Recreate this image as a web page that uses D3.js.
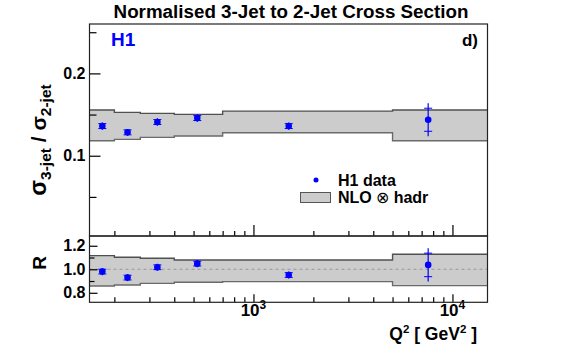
<!DOCTYPE html>
<html><head><meta charset="utf-8">
<script src="https://cdn.jsdelivr.net/npm/d3@7"></script>
<style>
body{margin:0;background:#fff;}
svg{display:block;font-family:"Liberation Sans",Arial,sans-serif;font-weight:bold;}
</style></head><body>
<svg id="c" width="567" height="364"></svg>
<script>
// ---- data ----
const binEdges = [150, 200, 270, 400, 700, 5000, 15000];
const nloUp    = [0.1555, 0.1527, 0.1515, 0.1502, 0.1542, 0.1555];
const nloDown  = [0.1182, 0.1199, 0.1223, 0.1239, 0.1279, 0.1182];
const ratioUp   = [1.116, 1.102, 1.094, 1.079, 1.079, 1.128];
const ratioDown = [0.858, 0.866, 0.880, 0.889, 0.895, 0.861];
const q2       = [174, 233, 329, 522, 1504, 7550];
const xsec     = [0.136, 0.1284, 0.1409, 0.1457, 0.136, 0.1437];
const xsecStat = [0.003, 0.003, 0.003, 0.003, 0.003, 0.014];
const xsecTot  = [0.0045, 0.004, 0.0045, 0.0045, 0.0045, 0.020];
const ratio     = [0.980, 0.929, 1.017, 1.048, 0.951, 1.037];
const ratioStat = [0.020, 0.020, 0.020, 0.020, 0.020, 0.100];
const ratioTot  = [0.030, 0.030, 0.030, 0.030, 0.030, 0.142];
const upperMajor = [0.1, 0.2];
const upperMinor = [0.05, 0.15, 0.25];
const lowerMajor = [0.8, 1.0, 1.2];
const lowerMinor = [0.9, 1.1];
const xMajor = [1000, 10000];
const xMinor = [200,300,400,500,600,700,800,900,2000,3000,4000,5000,6000,7000,8000,9000];

const svg = d3.select("#c");
const L = 89.5, R = 487.5, T1 = 24, B1 = 236, T2 = 236, B2 = 302.3;
const x = d3.scaleLog().domain([150, 15000]).range([L, R]);
const y1 = d3.scaleLinear().domain([0.0025, 0.26]).range([B1, T1]);
const y2 = d3.scaleLinear().domain([0.719, 1.283]).range([B2, T2]);
const blue = "#0000ff";

function band(g, y, up, down) {
  const pts = binEdges.map((e, i) => ({x: e, u: up[Math.min(i, up.length-1)], d: down[Math.min(i, down.length-1)]}));
  g.append("path").datum(pts)
    .attr("d", d3.area().curve(d3.curveStepAfter).x(p => x(p.x)).y0(p => y(p.d)).y1(p => y(p.u)))
    .attr("fill", "#cccccc");
  g.append("path").datum(pts)
    .attr("d", d3.line().curve(d3.curveStepAfter).x(p => x(p.x)).y(p => y(p.u)))
    .attr("fill", "none").attr("stroke", "#505050").attr("stroke-width", 1.4);
  g.append("path").datum(pts)
    .attr("d", d3.line().curve(d3.curveStepAfter).x(p => x(p.x)).y(p => y(p.d)))
    .attr("fill", "none").attr("stroke", "#6a6a6a").attr("stroke-width", 1.4);
}

function points(g, y, vals, stat, tot) {
  vals.forEach((v, i) => {
    const cx = x(q2[i]);
    g.append("line").attr("x1", cx).attr("x2", cx).attr("y1", y(v + tot[i])).attr("y2", y(v - tot[i]))
      .attr("stroke", blue).attr("stroke-width", 1.2);
    [v + stat[i], v - stat[i]].forEach(s => {
      g.append("line").attr("x1", cx - 4).attr("x2", cx + 4).attr("y1", y(s)).attr("y2", y(s))
        .attr("stroke", blue).attr("stroke-width", 1);
    });
    g.append("circle").attr("cx", cx).attr("cy", y(v)).attr("r", 3.3).attr("fill", blue);
  });
}

// upper panel
const gu = svg.append("g");
band(gu, y1, nloUp, nloDown);
points(gu, y1, xsec, xsecStat, xsecTot);
// lower panel
const gl = svg.append("g");
band(gl, y2, ratioUp, ratioDown);
gl.append("line").attr("x1", L).attr("x2", R).attr("y1", y2(1)).attr("y2", y2(1))
  .attr("stroke", "#999").attr("stroke-dasharray", "3,3").attr("stroke-width", 1);
points(gl, y2, ratio, ratioStat, ratioTot);

// axes
function styleAxis(g) {
  g.select(".domain").remove();
  g.selectAll(".tick line").attr("stroke", "#000").attr("stroke-width", 1.2);
  g.selectAll("text").attr("fill", "#000").attr("font-family", "Liberation Sans, Arial, sans-serif").attr("font-weight", "bold");
}
let a;
a = svg.append("g").attr("transform", `translate(${L},0)`)
  .call(d3.axisLeft(y1).tickValues(upperMajor).tickSizeInner(-11).tickSizeOuter(0).tickPadding(4).tickFormat(d3.format(".1f")));
styleAxis(a); a.selectAll("text").attr("font-size", 16);
a = svg.append("g").attr("transform", `translate(${L},0)`)
  .call(d3.axisLeft(y1).tickValues(upperMinor).tickSizeInner(-7).tickSizeOuter(0).tickFormat(""));
styleAxis(a);
a = svg.append("g").attr("transform", `translate(${L},0)`)
  .call(d3.axisLeft(y2).tickValues(lowerMajor).tickSizeInner(-8).tickSizeOuter(0).tickPadding(4).tickFormat(d3.format(".1f")));
styleAxis(a); a.selectAll("text").attr("font-size", 16);
a = svg.append("g").attr("transform", `translate(${L},0)`)
  .call(d3.axisLeft(y2).tickValues(lowerMinor).tickSizeInner(-5).tickSizeOuter(0).tickFormat(""));
styleAxis(a);

[B1, B2].forEach((yy, k) => {
  let ax = svg.append("g").attr("transform", `translate(0,${yy})`)
    .call(d3.axisBottom(x).tickValues(xMajor).tickSizeInner(k === 0 ? -11 : -8).tickSizeOuter(0).tickFormat(""));
  styleAxis(ax);
  ax = svg.append("g").attr("transform", `translate(0,${yy})`)
    .call(d3.axisBottom(x).tickValues(xMinor).tickSizeInner(-5).tickSizeOuter(0).tickFormat(""));
  styleAxis(ax);
});

// x tick labels with superscripts
xMajor.forEach(v => {
  const t = svg.append("text").attr("x", x(v)).attr("y", 316).attr("text-anchor", "middle")
    .attr("font-size", 17).attr("fill", "#000");
  t.append("tspan").text("10");
  t.append("tspan").attr("dy", -7).attr("font-size", 12).text(Math.round(Math.log10(v)));
});

// frames
[[T1, B1], [T2, B2]].forEach(([t, b]) => {
  svg.append("rect").attr("x", L).attr("y", t).attr("width", R - L).attr("height", b - t)
    .attr("fill", "none").attr("stroke", "#222").attr("stroke-width", 1.2);
});

// titles and labels
svg.append("text").attr("x", 291).attr("y", 18).attr("text-anchor", "middle")
  .attr("font-size", 18.8).attr("fill", "#000").text("Normalised 3-Jet to 2-Jet Cross Section");
svg.append("text").attr("x", 111).attr("y", 46).attr("font-size", 19).attr("fill", blue).text("H1");
svg.append("text").attr("x", 478).attr("y", 46).attr("text-anchor", "end").attr("font-size", 17).attr("fill", "#000").text("d)");

// y label upper
const yl = svg.append("text").attr("transform", "translate(46,140) rotate(-90)").attr("text-anchor", "middle")
  .attr("font-size", 23).attr("fill", "#000");
yl.append("tspan").text("σ");
yl.append("tspan").attr("font-size", 15.5).attr("dy", 5).text("3-jet");
yl.append("tspan").attr("font-size", 21).attr("dy", -5).text(" / σ");
yl.append("tspan").attr("font-size", 15.5).attr("dy", 5).text("2-jet");
// y label lower
svg.append("text").attr("transform", "translate(46,263) rotate(-90)").attr("text-anchor", "middle")
  .attr("font-size", 19).attr("fill", "#000").text("R");

// x label
const xl = svg.append("text").attr("x", 477).attr("y", 340).attr("text-anchor", "end")
  .attr("font-size", 17.5).attr("fill", "#000");
xl.append("tspan").text("Q");
xl.append("tspan").attr("font-size", 11.5).attr("dy", -7).text("2");
xl.append("tspan").attr("dy", 7).text(" [ GeV");
xl.append("tspan").attr("font-size", 11.5).attr("dy", -7).text("2");
xl.append("tspan").attr("dy", 7).text(" ]");

// legend
svg.append("circle").attr("cx", 316).attr("cy", 180).attr("r", 2.5).attr("fill", blue);
svg.append("text").attr("x", 338).attr("y", 186).attr("font-size", 16).attr("fill", "#000").text("H1 data");
svg.append("rect").attr("x", 300.5).attr("y", 192.5).attr("width", 30).attr("height", 10)
  .attr("fill", "#cccccc").attr("stroke", "#555").attr("stroke-width", 1);
const lt = svg.append("text").attr("x", 338).attr("y", 203).attr("font-size", 16).attr("fill", "#000");
lt.append("tspan").text("NLO ");
lt.append("tspan").attr("font-weight", "normal").text("⊗");
lt.append("tspan").text(" hadr");
</script></body></html>
